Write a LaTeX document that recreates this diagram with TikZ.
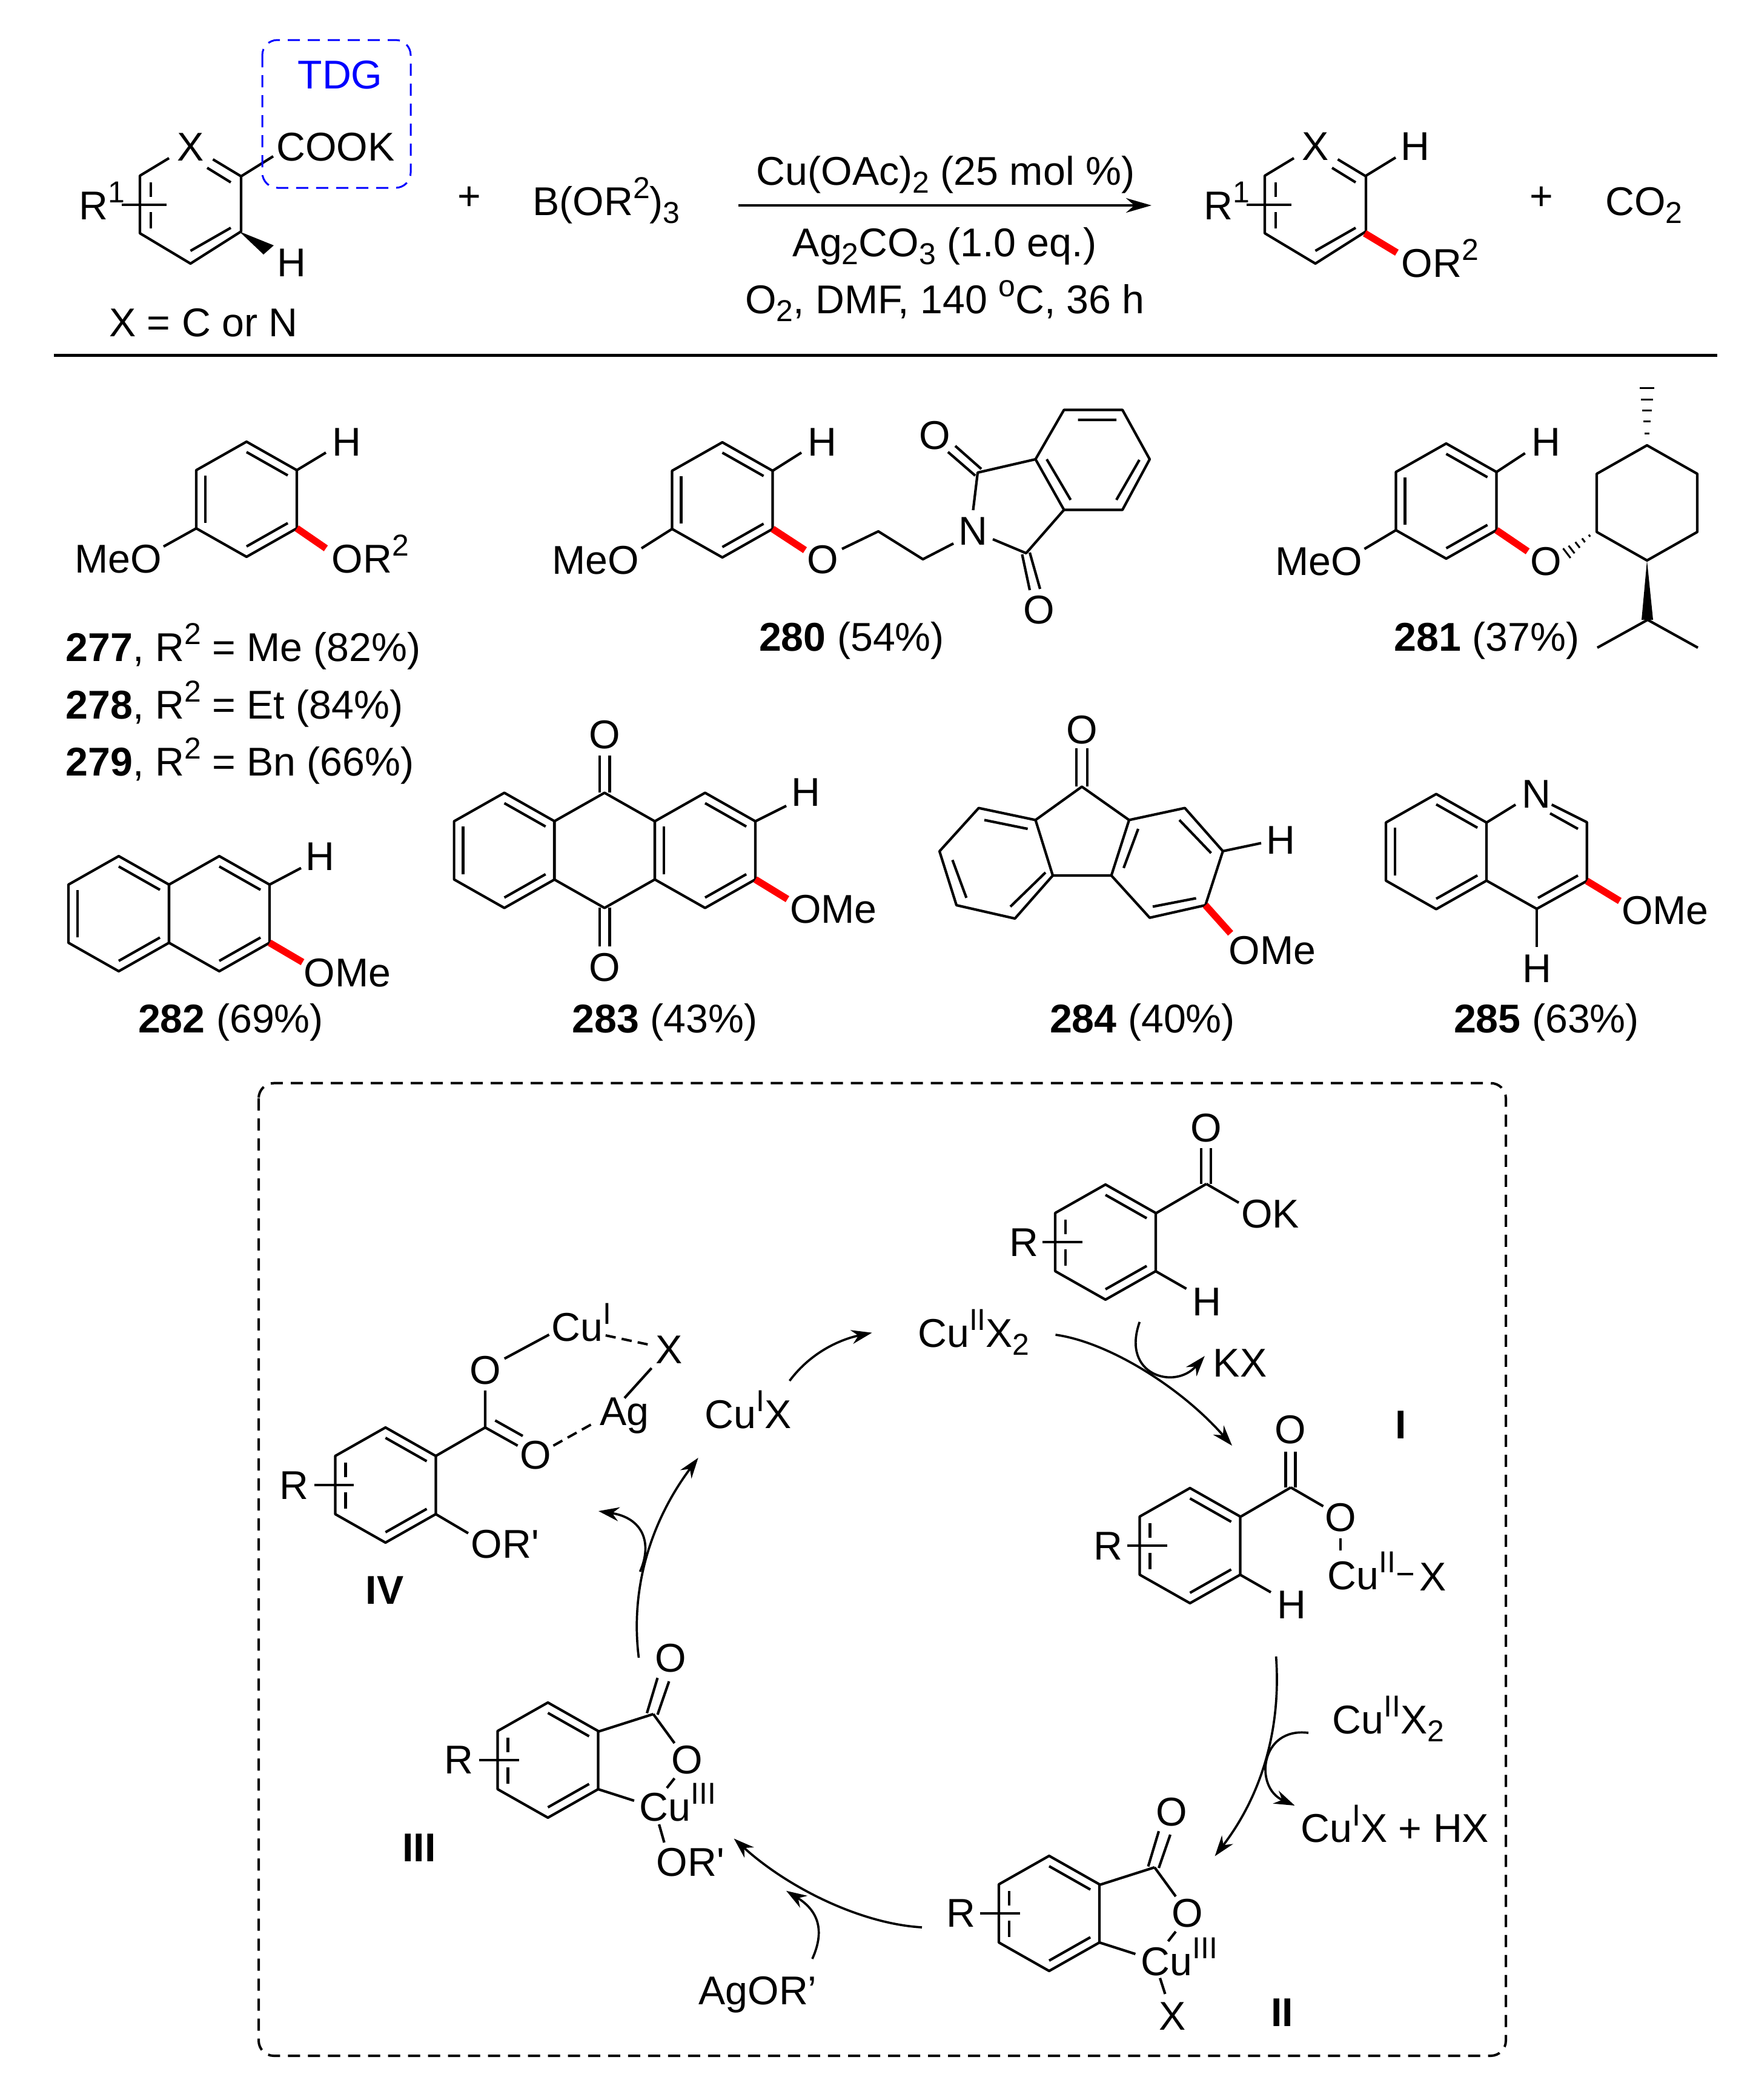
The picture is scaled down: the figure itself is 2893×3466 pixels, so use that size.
\documentclass[tikz,border=0pt]{standalone}
\usepackage{fontspec}
\setmainfont{Liberation Sans}
\usetikzlibrary{arrows.meta,calc}
\newcommand{\chemfont}{\fontsize{18.85}{22}\selectfont}
\newcommand{\supt}[1]{\raisebox{.42em}{\fontsize{14.2}{14}\selectfont #1}}
\newcommand{\subt}[1]{\raisebox{-.2em}{\fontsize{14.2}{14}\selectfont #1}}
\tikzset{
  every node/.style={font=\chemfont, inner sep=0pt},
  lbl/.style={anchor=base},
  lblw/.style={anchor=base west},
  bond/.style={line width=.42mm, line join=round},
  redbond/.style={red, line width=1.15mm},
  hash/.style={line width=.3mm},
  dbond/.style={line width=.4mm, dash pattern=on .17cm off .1cm},
  curved/.style={line width=.37mm, -{Stealth[length=.34cm, width=.23cm]}},
  framebox/.style={line width=.4mm, dash pattern=on .2cm off .13cm, rounded corners=.25cm},
}
% six-membered ring around a centre
\newcommand{\hexring}[2]{
  \coordinate (vc) at (#1,#2);
  \begin{scope}[shift={(#1,#2)}]
    \coordinate (v1) at (0,-95);
    \coordinate (v2) at (83,-48);
    \coordinate (v3) at (83,48);
    \coordinate (v4) at (0,95);
    \coordinate (v5) at (-83,48);
    \coordinate (v6) at (-83,-48);
    \draw [bond] (v1) -- (v2) -- (v3) -- (v4) -- (v5) -- (v6) -- cycle;
  \end{scope}
}
\newcommand{\hexin}[1]{
  \foreach \p/\q in {#1} {
    \draw [bond] ($(vc)!.82!(v\p)$) -- ($(vc)!.82!(v\q)$);
  }
}
% substituent bar across the left side of a ring
\newcommand{\rbar}[4]{
  \begin{scope}[shift={(#1,#2)}]
    \draw [bond] (-66,-37) -- (-66,-13) (-66,12) -- (-66,39) (#3,0) -- (#4,0);
  \end{scope}
}
% ring with the carboxylate on it, as in the top and right of the cycle
\newcommand{\acidring}[2]{
  \hexring{#1}{#2}
  \hexin{1/2,3/4}
  \rbar{#1}{#2}{-104}{-38}
  \begin{scope}[shift={(#1,#2)}]
    \draw [bond] (84,-48) -- (166.5,-96);
    \draw [bond] (158,-96) -- (158,-155) (174,-96) -- (174,-155);
    \draw [bond] (81,47) -- (133.5,77);
  \end{scope}
}
% ring closed on copper(III)
\newcommand{\cupart}[2]{
  \hexring{#1}{#2}
  \hexin{1/2,3/4}
  \rbar{#1}{#2}{-114}{-48}
  \begin{scope}[shift={(#1,#2)}]
    \draw [bond] (83,-47) -- (174,-76);
    \draw [bond] (163.5,-77.5) -- (181,-135.7) (181,-75) -- (200,-130);
    \draw [bond] (174,-76) -- (209,-28);
    \draw [bond] (209,30) -- (196.4,46);
    \draw [bond] (83,48) -- (142.4,67);
  \end{scope}
}
\begin{document}
\begin{tikzpicture}[x=.01cm, y=-.01cm]
  \useasboundingbox (0,0) rectangle (2893,3466);

  % reaction scheme
  \foreach \dx in {0,1857} {
    \begin{scope}[shift={(\dx,0)}]
      \draw [bond] (279,261) -- (231,290) -- (231,385) -- (314.5,435) -- (398,382) -- (398,291) -- (351.5,263);
      \draw [bond] (342,277) -- (381,301) (381,376) -- (314.5,414);
      \rbar{315}{338}{-114}{-40}
    \end{scope}
  }
  \node (xa) at (315,243) {X};
  \node (xb) at (2172,242) {X};
  \node [lblw] (ra) at (129.5,362) {R\supt{1}};
  \node [lblw] (rb) at (1986.5,362) {R\supt{1}};
  \draw [bond] (398,291) -- (451,258);
  \fill (395,382) -- (452,405) -- (435,420) -- cycle;
  \node (cook) at (554,243) {COOK};
  \node (ha) at (481,434) {H};
  \node (tdg) at (561.5,124) {\color{blue}TDG};
  \draw [framebox, blue, line width=.3mm] (433,66) rectangle (678,310);
  \node [lbl] (xeq) at (336,555.5) {X = C or N};
  \node (plusa) at (775,327) {+};
  \node [lbl] (boron) at (1001,355) {B(OR\supt{2})\subt{3}};
  \node [lbl] (rgta) at (1561,305) {Cu(OAc)\subt{2} (25 mol \%)};
  \node [lbl] (rgtb) at (1559.5,423) {Ag\subt{2}CO\subt{3} (1.0 eq.)};
  \node [lbl] (rgtc) at (1560,517) {O\subt{2}, DMF, 140 \supt{o}C, 36 h};
  \coordinate (rxns) at (1219,339);
  \coordinate (rxne) at (1901,339);
  \draw [line width=.45mm, -{Stealth[length=.42cm, width=.24cm]}] (rxns) -- (rxne);
  \draw [bond] (2255,290) -- (2304,260);
  \draw [redbond] (2253,385) -- (2306,417);
  \node (hb) at (2336,242) {H};
  \node [lblw] (orb) at (2313,457) {OR\supt{2}};
  \node (plusb) at (2545,327) {+};
  \node [lbl] (co2) at (2714,355) {CO\subt{2}};
  \draw [line width=.45mm] (89,586.5) -- (2835,586.5);

  % 277 to 279
  \hexring{407}{824}
  \hexin{1/2,3/4,5/6}
  \draw [bond] (v2) -- (538,747) (v5) -- (270,902);
  \draw [redbond] (v3) -- (538,905);
  \node (h77) at (572,730) {H};
  \node [lbl] (meo77) at (195,945) {MeO};
  \node [lblw] (or77) at (547,945) {OR\supt{2}};
  \node [lblw] (c277) at (108,1091) {\textbf{277}, R\supt{2} = Me (82\%)};
  \node [lblw] (c278) at (108,1186) {\textbf{278}, R\supt{2} = Et (84\%)};
  \node [lblw] (c279) at (108,1280) {\textbf{279}, R\supt{2} = Bn (66\%)};

  % 280
  \hexring{1192.5}{825}
  \hexin{1/2,3/4,5/6}
  \draw [bond] (v2) -- (1323,747) (v5) -- (1059,905);
  \draw [redbond] (v3) -- (1329,908);
  \node (h80) at (1357,730) {H};
  \node [lbl] (meo80) at (983,947) {MeO};
  \node (o80) at (1358,924) {O};
  \node (n80) at (1606.5,877) {N};
  \node (oa80) at (1543,719) {O};
  \node (ob80) at (1715,1007) {O};
  \draw [bond] (1390,906) -- (1450,877) -- (1523.6,923) -- (1574,897);
  \draw [bond] (1606.5,842) -- (1614,780) -- (1709.5,758) -- (1756.5,841.5) -- (1694,913) -- (1639,890);
  \draw [bond] (1709.5,758) -- (1756.5,676.5) -- (1853,676.5) -- (1898,758) -- (1853,841.5) -- (1756.5,841.5);
  \draw [bond] (1728,758) -- (1767.5,825) (1843,825) -- (1881,759) (1779.5,693) -- (1843,693);
  \draw [bond] (1565,746) -- (1610,785) (1577,736) -- (1620,774);
  \draw [bond] (1687.4,915) -- (1700,974) (1700,912) -- (1717,972);
  \node [lbl] (c280) at (1406,1074) {\textbf{280} (54\%)};

  % 281
  \hexring{2387.5}{827}
  \hexin{1/2,3/4,5/6}
  \draw [bond] (v2) -- (2517.6,748) (v5) -- (2252.5,906);
  \draw [redbond] (v3) -- (2522,910);
  \node (h81) at (2552.5,730) {H};
  \node [lbl] (meo81) at (2177.5,949) {MeO};
  \node (o81) at (2552.5,926.6) {O};
  \hexring{2719}{830}
  \coordinate (ment) at (2626,882.6);
  \coordinate (ethr) at (2586.6,913);
  \foreach \t/\w in {.05/2,.3/4,.55/6,.8/8,1/10} {
    \draw [hash] ($(ment)!\t!(ethr)+(\w*.61,\w*.79)$) -- ($(ment)!\t!(ethr)-(\w*.61,\w*.79)$);
  }
  \foreach \yy/\w in {715/4,695.5/6,677/8,659/10,640.5/12} {
    \draw [hash] (2719-\w,\yy) -- (2719+\w,\yy);
  }
  \fill (2719,925) -- (2710,1023) -- (2729,1023) -- cycle;
  \draw [bond] (2637,1069) -- (2720,1023) -- (2803,1069);
  \node [lbl] (c281) at (2454.5,1074) {\textbf{281} (37\%)};

  % 282
  \hexring{196}{1508}
  \hexin{1/2,3/4,5/6}
  \hexring{362}{1508}
  \hexin{1/2,3/4}
  \draw [bond] (v2) -- (497,1432.6);
  \draw [redbond] (v3) -- (499.5,1588);
  \node (h82) at (528,1414) {H};
  \node [lbl] (ome82) at (573.5,1628) {OMe};
  \node [lbl] (c282) at (381,1704) {\textbf{282} (69\%)};

  % 283
  \hexring{832.6}{1403.5}
  \hexin{1/2,3/4,5/6}
  \hexring{998}{1403.5}
  \hexring{1164}{1403.5}
  \hexin{1/2,3/4,5/6}
  \draw [bond] (v2) -- (1298,1330);
  \draw [redbond] (v3) -- (1300,1484);
  \draw [bond] (990,1247) -- (990,1308) (1006.5,1247) -- (1006.5,1308);
  \draw [bond] (990,1498) -- (990,1562) (1006.5,1498) -- (1006.5,1562);
  \node (oa83) at (998,1212.6) {O};
  \node (ob83) at (998,1597) {O};
  \node (h83) at (1330,1308) {H};
  \node [lbl] (ome83) at (1376,1523) {OMe};
  \node [lbl] (c283) at (1097.6,1704) {\textbf{283} (43\%)};

  % 284
  \draw [bond] (1615.7,1333.6) -- (1709.5,1353.4) -- (1738,1445) -- (1675.5,1516) -- (1579,1494) -- (1551,1405) -- cycle;
  \draw [bond] (1625,1353.4) -- (1696.6,1368) (1726,1440) -- (1668,1496.4) (1572.4,1419.4) -- (1595.4,1481.8);
  \draw [bond] (1709.5,1353.4) -- (1786,1298.4) -- (1864,1353.4) -- (1834.7,1445) -- (1738,1445);
  \draw [bond] (1864,1353.4) -- (1956,1333.6) -- (2018.8,1404.8) -- (1990,1494) -- (1898,1514.7) -- (1834.7,1445);
  \draw [bond] (1879,1368) -- (1855,1432.6) (1947,1353.4) -- (1999.4,1408) (1903,1496.4) -- (1974.6,1482.5);
  \draw [bond] (1776.7,1234.6) -- (1776.7,1298) (1795,1234.6) -- (1795,1298);
  \draw [bond] (2018.8,1404.8) -- (2082,1391.5);
  \draw [redbond] (1990,1494) -- (2031.6,1540.4);
  \node (o84) at (1786,1204.5) {O};
  \node (h84) at (2114.5,1386.4) {H};
  \node [lbl] (ome84) at (2100.6,1591) {OMe};
  \node [lbl] (c284) at (1886,1704) {\textbf{284} (40\%)};

  % 285
  \hexring{2371}{1405.5}
  \hexin{1/2,3/4,5/6}
  \draw [bond] (2455,1357) -- (2502,1328);
  \draw [bond] (2561.7,1328) -- (2619.7,1357) -- (2619.7,1454) -- (2537,1500) -- (2455,1454);
  \draw [bond] (2559,1342.4) -- (2605,1368) (2605,1445) -- (2539,1482);
  \draw [bond] (2537,1500) -- (2537,1562.5);
  \draw [redbond] (2619.7,1454) -- (2674,1487);
  \node (n85) at (2536,1311) {N};
  \node (h85) at (2537,1599) {H};
  \node [lbl] (ome85) at (2749,1525) {OMe};
  \node [lbl] (c285) at (2553,1704) {\textbf{285} (63\%)};

  % catalytic cycle
  \draw [framebox] (427,1787.7) rectangle (2486,3393);

  \acidring{1825}{2050}
  \draw [bond] (1991.5,1954) -- (2045,1985);
  \node (oa) at (1991.6,1861.6) {O};
  \node [lbl] (ok) at (2097,2026.5) {OK};
  \node (ra1) at (1690,2051) {R};
  \node (hs1) at (1992,2148.6) {H};

  \acidring{1964.5}{2551}
  \draw [bond] (2131,2455) -- (2184.5,2486);
  \draw [bond] (2213,2539) -- (2213,2559);
  \node (ob) at (2130.5,2360) {O};
  \node (oc) at (2213,2505) {O};
  \node (ra2) at (1829.5,2552) {R};
  \node (hs2) at (2132,2648.6) {H};
  \node [lblw] (cuI) at (2191,2623) {Cu\supt{II}};
  \node (xI) at (2365.5,2603) {X};
  \draw [bond] (2307,2598) -- (2332.5,2598);
  \node (lbI) at (2313,2352) {\textbf{I}};

  \cupart{1732}{3158}
  \node (oII) at (1934,2991) {O};
  \node (opII) at (1960.7,3158) {O};
  \node (rII) at (1586.8,3158) {R};
  \node [lblw] (cuII) at (1883,3260) {Cu\supt{III}};
  \draw [bond] (1915,3264.7) -- (1923.5,3291);
  \node (xII) at (1936,3327.7) {X};
  \node (lbII) at (2116.4,3322) {\textbf{II}};

  \cupart{904.5}{2905}
  \node (oIII) at (1107,2737) {O};
  \node (opIII) at (1133.8,2905) {O};
  \node (rIII) at (757.8,2905) {R};
  \node [lblw] (cuIII) at (1055,3005.4) {Cu\supt{III}};
  \draw [bond] (1088,3011) -- (1096.6,3041);
  \node [lblw] (orIII) at (1083,3096.5) {OR\textquotesingle};
  \node (lbIII) at (692,3050) {\textbf{III}};

  \hexring{636.4}{2451}
  \hexin{1/2,3/4}
  \rbar{636.4}{2451}{-117.4}{-52}
  \draw [bond] (v2) -- (801,2356) -- (801,2295);
  \draw [bond] (801,2356) -- (854.6,2386) (817.4,2344.4) -- (863,2370);
  \draw [bond] (v3) -- (773,2530.6);
  \draw [bond] (832.8,2242.4) -- (906.5,2202.8);
  \draw [bond] (1075.6,2258) -- (1031,2307.4);
  \draw [dbond] (999.8,2204) -- (1079,2221);
  \draw [dbond] (913.5,2386) -- (978.7,2349.5);
  \node (oaIV) at (801,2261.5) {O};
  \node (obIV) at (884,2402) {O};
  \node [lblw] (cuIV) at (910,2213.7) {Cu\supt{I}};
  \node (xIV) at (1105,2228) {X};
  \node [lbl] (agIV) at (1031,2352) {Ag};
  \node (rIV) at (485.6,2451.6) {R};
  \node [lblw] (orIV) at (777,2571) {OR\textquotesingle};
  \node (lbIV) at (635,2625) {\textbf{IV}};

  \node [lbl] (cuxa) at (1607.5,2223) {Cu\supt{II}X\subt{2}};
  \node [lbl] (kx) at (2047,2272) {KX};
  \node [lbl] (cuxb) at (2292,2861) {Cu\supt{II}X\subt{2}};
  \node [lbl] (cuxc) at (2303,3040.8) {Cu\supt{I}X + HX};
  \node [lbl] (agor) at (1251,3308) {AgOR’};
  \node [lbl] (cuxd) at (1235,2357) {Cu\supt{I}X};

  \coordinate (s1) at (1742.5,2203);
  \coordinate (e1) at (2034,2386);
  \coordinate (s2) at (1881.4,2181.8);
  \coordinate (e2) at (1988.8,2238);
  \coordinate (s3) at (2106.6,2734);
  \coordinate (e3) at (2005.6,3063.5);
  \coordinate (s4) at (2160,2860);
  \coordinate (e4) at (2137.5,2980);
  \coordinate (s5) at (1522,3181);
  \coordinate (e5) at (1211.6,3034.5);
  \coordinate (s6) at (1341,3233);
  \coordinate (e6) at (1298,3120.7);
  \coordinate (s7) at (1054.5,2736);
  \coordinate (e7) at (1152.7,2406);
  \coordinate (s8) at (1056.6,2594);
  \coordinate (e8) at (988,2494);
  \coordinate (s9) at (1303.5,2279);
  \coordinate (e9) at (1439.6,2199.6);
  \draw [curved] (s1) .. controls (1830,2215) and (1950,2290) .. (e1);
  \draw [curved] (s2) .. controls (1850,2270) and (1940,2295) .. (e2);
  \draw [curved] (s3) .. controls (2115,2850) and (2085,2960) .. (e3);
  \draw [curved] (s4) .. controls (2080,2850) and (2070,2950) .. (e4);
  \draw [curved] (s5) .. controls (1420,3175) and (1300,3115) .. (e5);
  \draw [curved] (s6) .. controls (1365,3180) and (1345,3150) .. (e6);
  \draw [curved] (s7) .. controls (1040,2620) and (1075,2510) .. (e7);
  \draw [curved] (s8) .. controls (1078,2545) and (1060,2505) .. (e8);
  \draw [curved] (s9) .. controls (1340,2230) and (1390,2210) .. (e9);
\end{tikzpicture}
\end{document}
